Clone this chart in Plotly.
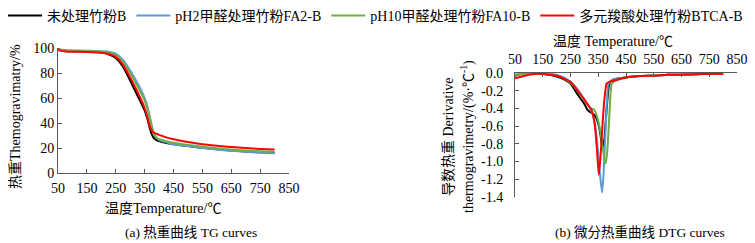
import plotly.graph_objects as go

# ---------------- data ----------------
series_names = ["未处理竹粉B", "pH2甲醛处理竹粉FA2-B", "pH10甲醛处理竹粉FA10-B", "多元羧酸处理竹粉BTCA-B"]
series_colors = ["#000000", "#5B9BD5", "#70AD47", "#FF0000"]

# TG curves (temperature, residual mass %)
tg_temp = [50, 55, 75, 100, 150, 200, 225, 250, 275, 300, 325, 350, 360, 370, 380, 390, 400, 425, 450, 500, 550, 600, 650, 700, 750, 800]
tg_B    = [99.5, 98.5, 97.8, 97.5, 97.2, 96.5, 95.0, 92.0, 85.0, 74.0, 62.0, 50.0, 43.0, 34.0, 28.5, 26.5, 25.5, 24.0, 23.0, 21.5, 20.2, 19.0, 18.0, 17.2, 16.6, 16.2]
tg_FA2  = [99.5, 98.8, 98.3, 98.0, 97.8, 97.5, 97.0, 95.5, 90.5, 82.0, 72.0, 60.0, 53.0, 43.0, 33.0, 28.5, 26.5, 24.5, 23.0, 21.5, 20.0, 18.8, 17.8, 17.0, 16.3, 15.8]
tg_FA10 = [99.5, 98.8, 98.2, 97.9, 97.6, 97.2, 96.5, 94.5, 89.0, 80.0, 69.5, 58.0, 51.0, 42.0, 32.0, 28.5, 27.0, 25.5, 24.2, 22.5, 21.0, 19.8, 18.8, 18.0, 17.4, 17.0]
tg_BTCA = [99.5, 98.0, 97.3, 97.0, 96.8, 96.2, 95.2, 93.0, 86.5, 76.5, 65.0, 52.0, 44.5, 36.0, 32.5, 31.5, 30.5, 28.5, 27.0, 24.8, 23.0, 21.8, 20.8, 20.0, 19.3, 18.8]

# DTG curves (temperature, %/°C)
dtg_temp_B = [50, 75, 100, 125, 150, 175, 200, 225, 250, 275, 300, 310, 320, 330, 340, 347, 353, 358, 363, 368, 373, 378, 383, 388, 393, 400, 425, 450, 500, 550, 600, 650, 700, 750, 800]
dtg_B      = [-0.03, -0.01, 0.0, 0.0, -0.01, -0.02, -0.04, -0.07, -0.12, -0.24, -0.35, -0.41, -0.44, -0.46, -0.49, -0.54, -0.61, -0.70, -0.80, -0.83, -0.72, -0.50, -0.30, -0.15, -0.10, -0.08, -0.06, -0.05, -0.035, -0.03, -0.02, -0.02, -0.015, -0.01, -0.01]
dtg_temp_FA2 = [50, 75, 100, 125, 150, 175, 200, 225, 250, 275, 300, 315, 325, 335, 344, 352, 358, 364, 369, 374, 380, 386, 395, 410, 425, 450, 500, 550, 600, 650, 700, 750, 800]
dtg_FA2      = [-0.02, -0.01, 0.0, 0.0, 0.0, -0.01, -0.02, -0.05, -0.10, -0.18, -0.30, -0.37, -0.43, -0.52, -0.72, -0.98, -1.20, -1.35, -1.15, -0.80, -0.40, -0.13, -0.09, -0.07, -0.06, -0.05, -0.035, -0.03, -0.02, -0.02, -0.015, -0.01, -0.01]
dtg_temp_FA10 = [50, 75, 100, 125, 150, 175, 200, 225, 250, 275, 300, 315, 325, 333, 340, 348, 355, 362, 368, 373, 377, 382, 388, 393, 398, 405, 425, 450, 500, 550, 600, 650, 700, 750, 800]
dtg_FA10      = [-0.02, -0.01, 0.0, 0.0, 0.0, -0.01, -0.03, -0.06, -0.11, -0.20, -0.31, -0.37, -0.40, -0.41, -0.44, -0.52, -0.62, -0.75, -0.88, -0.98, -1.02, -0.90, -0.60, -0.30, -0.13, -0.10, -0.07, -0.05, -0.035, -0.03, -0.02, -0.02, -0.015, -0.01, -0.01]
dtg_temp_BTCA = [50, 75, 100, 125, 150, 175, 200, 225, 250, 275, 300, 315, 326, 338, 345, 352, 358, 365, 372, 380, 390, 400, 425, 450, 500, 550, 600, 650, 700, 750, 800]
dtg_BTCA      = [-0.06, -0.04, -0.02, -0.01, -0.01, -0.02, -0.03, -0.06, -0.10, -0.20, -0.30, -0.37, -0.42, -0.60, -0.85, -1.15, -0.95, -0.60, -0.30, -0.12, -0.10, -0.09, -0.07, -0.05, -0.035, -0.03, -0.02, -0.02, -0.015, -0.01, -0.01]

tg_series = [tg_B, tg_FA2, tg_FA10, tg_BTCA]
dtg_temps = [dtg_temp_B, dtg_temp_FA2, dtg_temp_FA10, dtg_temp_BTCA]
dtg_series = [dtg_B, dtg_FA2, dtg_FA10, dtg_BTCA]

x_ticks = [50, 150, 250, 350, 450, 550, 650, 750, 850]
tg_yticks = [0, 20, 40, 60, 80, 100]
dtg_yticks = [0.0, -0.2, -0.4, -0.6, -0.8, -1.0, -1.2, -1.4]
dtg_yticktext = ["0.0", "-0.2", "-0.4", "-0.6", "-0.8", "-1.0", "-1.2", "-1.4"]

# ---------------- figure ----------------
W, H = 755, 243
FONT = "Liberation Serif, Times New Roman, Noto Sans CJK SC, serif"
AXC = "#595959"

fig = go.Figure()
for i in range(4):
    fig.add_trace(go.Scatter(x=tg_temp, y=tg_series[i], mode="lines", name=series_names[i],
                             line=dict(color=series_colors[i], width=2, shape="spline", smoothing=0.6),
                             xaxis="x", yaxis="y", legendgroup=str(i)))
for i in range(4):
    fig.add_trace(go.Scatter(x=dtg_temps[i], y=dtg_series[i], mode="lines", name=series_names[i],
                             line=dict(color=series_colors[i], width=2, shape="spline", smoothing=0.5),
                             xaxis="x2", yaxis="y2", legendgroup=str(i), showlegend=False))

def px_x(p):
    return p / W

def px_y(p):
    return 1 - p / H

axis_common = dict(showgrid=False, zeroline=False, showline=True, linecolor=AXC, linewidth=1,
                   ticks="inside", ticklen=4, tickcolor=AXC,
                   tickfont=dict(family=FONT, size=14, color="#000000"))

fig.update_layout(
    width=W, height=H,
    margin=dict(l=0, r=0, t=0, b=0, autoexpand=False),
    paper_bgcolor="white", plot_bgcolor="white",
    font=dict(family=FONT, color="#000000"),
    showlegend=True,
    legend=dict(orientation="h", x=0.004, y=1.0, xanchor="left", yanchor="top",
                font=dict(family=FONT, size=14, color="#000000"),
                bgcolor="rgba(0,0,0,0)", itemwidth=34, tracegroupgap=0),
    xaxis=dict(domain=[px_x(58), px_x(289)], range=[50, 850], tickvals=x_ticks,
               anchor="y", ticklabelstandoff=2, **axis_common),
    yaxis=dict(domain=[px_y(173), px_y(48)], range=[0, 100], tickvals=tg_yticks,
               anchor="x", ticklabelstandoff=0, **axis_common),
    xaxis2=dict(domain=[px_x(515), px_x(737)], range=[50, 850], tickvals=x_ticks,
                side="top", anchor="y2", ticklabelstandoff=2, **axis_common),
    yaxis2=dict(domain=[px_y(197), px_y(73)], range=[-1.4, 0], tickvals=dtg_yticks,
                ticktext=dtg_yticktext, anchor="x2", ticklabelstandoff=8, **axis_common),
)

ann_font = dict(family=FONT, size=14, color="#000000")
cap_font = dict(family=FONT, size=13.5, color="#000000")
annotations = [
    dict(text="温度Temperature/℃", x=px_x(163), y=px_y(208), font=ann_font),
    dict(text="热重Themogravimatry/%", x=px_x(16), y=px_y(117), textangle=-90, font=ann_font),
    dict(text="温度 Temperature/℃", x=px_x(613), y=px_y(41), font=ann_font),
    dict(text="导数热重 Derivative", x=px_x(448), y=px_y(137), textangle=-90, font=ann_font),
    dict(text="thermogravimetry/(%·℃<sup>-1</sup>)", x=px_x(467), y=px_y(137), textangle=-90, font=ann_font),
    dict(text="(a) 热重曲线 TG curves", x=px_x(191), y=px_y(232), font=cap_font),
    dict(text="(b) 微分热重曲线 DTG curves", x=px_x(640), y=px_y(232), font=cap_font),
]
for a in annotations:
    a.update(xref="paper", yref="paper", showarrow=False, xanchor="center", yanchor="middle")
fig.update_layout(annotations=annotations)

fig.write_html("out.html", config={"displayModeBar": False},
               post_script="document.body.style.margin='0';document.body.style.overflow='hidden';")
